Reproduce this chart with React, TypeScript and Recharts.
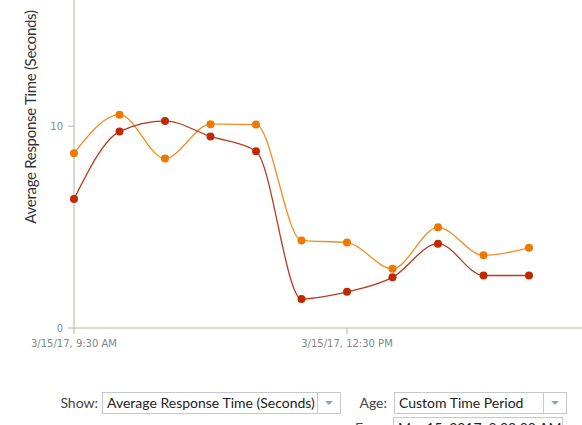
import { LineChart, Line, XAxis, YAxis } from "recharts";

// half-hour buckets, minutes since midnight (9:30 AM .. 2:30 PM)
const minutes = [570, 600, 630, 660, 690, 720, 750, 780, 810, 840, 870];
const currentAvg = [8.66, 10.57, 8.4, 10.1, 10.08, 4.34, 4.23, 2.94, 4.99, 3.6, 3.97];
const previousAvg = [6.39, 9.73, 10.26, 9.49, 8.76, 1.44, 1.79, 2.51, 4.18, 2.6, 2.6];

const xTicks = [570, 750];
const xTickLabels = ["3/15/17, 9:30 AM", "3/15/17, 12:30 PM"];
const yTicks = [0, 10];

const data = minutes.map((t, i) => ({
  t,
  current: currentAvg[i],
  previous: previousAvg[i],
}));

const AXIS = "#b3b3a3";
const UI_FONT = "Lato, 'Liberation Sans', sans-serif";

function Select({
  left,
  top,
  width,
  text,
}: {
  left: number;
  top: number;
  width: number;
  text: string;
}) {
  return (
    <div
      style={{
        position: "absolute",
        left,
        top,
        width,
        height: 20,
        border: "1px solid #c6c9cc",
        background: "#fff",
        boxSizing: "content-box",
        fontFamily: UI_FONT,
        fontSize: 14,
        color: "#222",
      }}
    >
      <div style={{ position: "absolute", left: 4, top: 1, whiteSpace: "nowrap" }}>
        {text}
      </div>
      <div
        style={{
          position: "absolute",
          right: 0,
          top: 0,
          width: 22,
          height: 20,
          borderLeft: "1px solid #c6c9cc",
        }}
      >
        <div
          style={{
            position: "absolute",
            left: 7,
            top: 8,
            width: 0,
            height: 0,
            borderLeft: "4px solid transparent",
            borderRight: "4px solid transparent",
            borderTop: "4px solid #8fa0b8",
          }}
        />
      </div>
    </div>
  );
}

export default function App() {
  return (
    <div
      style={{
        position: "absolute",
        left: 0,
        top: 0,
        width: 582,
        height: 425,
        overflow: "hidden",
        background: "#fff",
      }}
    >
      <LineChart
        width={620}
        height={425}
        data={data}
        margin={{ top: 0, right: 0, bottom: 0, left: 0 }}
      >
        <XAxis
          dataKey="t"
          type="number"
          domain={[570, 930]}
          ticks={xTicks}
          tickFormatter={(v: number) => xTickLabels[xTicks.indexOf(v)] ?? ""}
          height={97}
          stroke={AXIS}
          tickSize={6}
          tickMargin={6}
          tick={{ fill: "#858585", fontSize: 10, fontFamily: "'DejaVu Sans', sans-serif" }}
        />
        <YAxis
          type="number"
          domain={[0, 16.25]}
          ticks={yTicks}
          width={74}
          stroke={AXIS}
          tickSize={6}
          tickMargin={5}
          tick={{ fill: "#7f8da3", fontSize: 10, fontFamily: "'DejaVu Sans', sans-serif" }}
          label={{
            value: "Average Response Time (Seconds)",
            angle: -90,
            position: "center",
            dx: -6,
            dy: -47,
            style: {
              fill: "#333",
              fontSize: 15,
              letterSpacing: -0.3,
              fontFamily: UI_FONT,
            },
          }}
        />
        <Line
          type="monotone"
          dataKey="current"
          stroke="#f28c22"
          strokeWidth={1.3}
          dot={{ r: 4, fill: "#ef7800", stroke: "none" }}
          isAnimationActive={false}
        />
        <Line
          type="monotone"
          dataKey="previous"
          stroke="#b83a1c"
          strokeWidth={1.3}
          dot={{ r: 4, fill: "#c02a00", stroke: "none" }}
          isAnimationActive={false}
        />
      </LineChart>

      <div
        style={{
          position: "absolute",
          right: 582 - 98,
          top: 394,
          fontFamily: UI_FONT,
          fontSize: 14,
          color: "#444",
        }}
      >
        Show:
      </div>
      <Select left={102} top={392} width={237} text="Average Response Time (Seconds)" />

      <div
        style={{
          position: "absolute",
          right: 582 - 387,
          top: 394,
          fontFamily: UI_FONT,
          fontSize: 14,
          color: "#444",
        }}
      >
        Age:
      </div>
      <Select left={394} top={392} width={171} text="Custom Time Period" />

      <div
        style={{
          position: "absolute",
          left: 355,
          top: 419,
          fontFamily: UI_FONT,
          fontSize: 14,
          color: "#444",
        }}
      >
        From:
      </div>
      <div
        style={{
          position: "absolute",
          left: 393,
          top: 417,
          width: 168,
          height: 20,
          border: "1px solid #c6c9cc",
          background: "#fff",
          fontFamily: UI_FONT,
          fontSize: 14,
          color: "#222",
        }}
      >
        <div style={{ position: "absolute", left: 4, top: 1, whiteSpace: "nowrap" }}>
          Mar 15, 2017, 9:00:00 AM
        </div>
      </div>
    </div>
  );
}
